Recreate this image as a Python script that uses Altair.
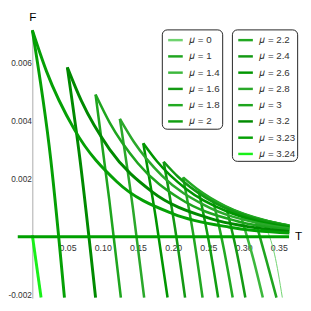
import altair as alt
import pandas as pd

# legend groups (mu values)
mu_a = ["0", "1", "1.4", "1.6", "1.8", "2"]
mu_b = ["2.2", "2.4", "2.6", "2.8", "3", "3.2", "3.23", "3.24"]
colors_a = ["#6fd36f", "#1fa51f", "#3cb83c", "#149a14", "#22aa22", "#109e10"]
colors_b = ["#22a822", "#139913", "#009600", "#2aa82a", "#1ea51e", "#008a00", "#05a005", "#19f019"]
widths_a = [1.0, 2.6, 2.6, 2.6, 2.6, 2.6]
widths_b = [2.6, 2.6, 2.6, 2.6, 2.6, 3.0, 3.0, 3.0]

# steep (large-T) branch of each swallowtail: cusp -> bottom
steep_T = {
    "3.24": [0.0, 0.0124],
    "3.23": [0.0, 0.0262, 0.0456],
    "3.2": [0.0497, 0.0677, 0.0898],
    "3": [0.0898, 0.1091, 0.1257],
    "2.8": [0.1243, 0.1429, 0.1588],
    "2.6": [0.1575, 0.1754, 0.192],
    "2.4": [0.1865, 0.2026, 0.2169],
    "2.2": [0.2141, 0.2293, 0.2417],
    "2": [0.2362, 0.2514, 0.2638],
    "1.8": [0.2569, 0.2721, 0.2845],
    "1.6": [0.2762, 0.2906, 0.3025],
    "1.4": [0.297, 0.3135, 0.3273],
    "1": [0.3177, 0.3322, 0.3467],
    "0": [0.330, 0.337, 0.3439, 0.355],
}
steep_F = {
    "3.24": [0.00005, -0.0021],
    "3.23": [0.00713, 0.00266, -0.0021],
    "3.2": [0.00585, 0.00266, -0.0021],
    "3": [0.00491, 0.00131, -0.0021],
    "2.8": [0.00407, 0.00097, -0.0021],
    "2.6": [0.00323, 0.00064, -0.0021],
    "2.4": [0.00259, 0.0003, -0.0021],
    "2.2": [0.00205, -0.00003, -0.0021],
    "2": [0.00158, -0.00027, -0.0021],
    "1.8": [0.00124, -0.00044, -0.0021],
    "1.6": [0.00094, -0.00057, -0.0021],
    "1.4": [0.00064, -0.00074, -0.0021],
    "1": [0.00047, -0.0008, -0.0021],
    "0": [0.00037, 0.0, -0.0006, -0.0021],
}
# decaying branch of each swallowtail: cusp -> right edge
lower_T = {
    "3.23": [0.0, 0.02, 0.06, 0.12, 0.20, 0.28, 0.365],
    "3.2": [0.0497, 0.0697, 0.1097, 0.1697, 0.2497, 0.3297, 0.365],
    "3": [0.0898, 0.1098, 0.1498, 0.2098, 0.2898, 0.365],
    "2.8": [0.1243, 0.1443, 0.1843, 0.2443, 0.3243, 0.365],
    "2.6": [0.1575, 0.1775, 0.2175, 0.2775, 0.32, 0.365],
    "2.4": [0.1865, 0.2065, 0.2465, 0.3065, 0.365],
    "2.2": [0.2141, 0.2341, 0.2741, 0.3341, 0.365],
    "2": [0.2362, 0.2562, 0.2962, 0.33, 0.365],
    "1.8": [0.2569, 0.2769, 0.3169, 0.365],
    "1.6": [0.2762, 0.2962, 0.3362, 0.365],
    "1.4": [0.297, 0.317, 0.34, 0.365],
    "1": [0.3177, 0.3377, 0.365],
    "0": [0.330, 0.345, 0.365],
}
lower_F = {
    "3.23": [0.00713, 0.00572, 0.00369, 0.00190, 0.00079, 0.00033, 0.000128],
    "3.2": [0.00585, 0.00469, 0.00302, 0.00156, 0.00065, 0.000269, 0.000183],
    "3": [0.00491, 0.00394, 0.00254, 0.00131, 0.000544, 0.000238],
    "2.8": [0.00407, 0.00327, 0.00210, 0.00109, 0.000451, 0.000288],
    "2.6": [0.00323, 0.00259, 0.00167, 0.000863, 0.00054, 0.00033],
    "2.4": [0.00259, 0.00208, 0.00134, 0.000692, 0.000363],
    "2.2": [0.00205, 0.00165, 0.00106, 0.000548, 0.00039],
    "2": [0.00158, 0.00127, 0.000817, 0.000563, 0.000383],
    "1.8": [0.00124, 0.000995, 0.000641, 0.000378],
    "1.6": [0.00094, 0.000754, 0.000486, 0.000354],
    "1.4": [0.00064, 0.000514, 0.000399, 0.000303],
    "1": [0.00047, 0.000377, 0.000279],
    "0": [0.00037, 0.000314, 0.000252],
}
zero_T = [-0.0207, 0.3646]
zero_F = [0.0, 0.0]

x_ticks = [0.05, 0.10, 0.15, 0.20, 0.25, 0.30, 0.35]
y_ticks = [-0.002, 0.002, 0.004, 0.006]

rows = []
for mu, w in zip(mu_a + mu_b, widths_a + widths_b):
    for name, Ts, Fs in (("s", steep_T, steep_F), ("l", lower_T, lower_F)):
        if mu in Ts:
            for t, f in zip(Ts[mu], Fs[mu]):
                rows.append({"mu": mu, "seg": mu + name, "T": t, "F": f, "w": w})
df = pd.DataFrame(rows)
zdf = pd.DataFrame({"T": zero_T, "F": zero_F})

FONT = "Liberation Sans"

x_axis = alt.Axis(values=x_ticks, format=".2f", title="T", offset=-63,
                  titleX=273, titleY=-1, titleAlign="center", titleBaseline="middle",
                  titleFontSize=12, titleFontWeight="normal", titleColor="black", titleFont=FONT,
                  labelFontSize=9, labelColor="#333", labelFont=FONT, labelPadding=7,
                  tickSize=0, domain=False, grid=False)
y_axis = alt.Axis(values=y_ticks, format=".3f", title="F", titleAngle=0,
                  titleX=0, titleY=-13, titleAlign="center", titleBaseline="middle",
                  titleFontSize=12, titleFontWeight="normal", titleColor="black", titleFont=FONT,
                  labelFontSize=8.5, labelColor="#333", labelFont=FONT, labelPadding=1,
                  labelExpr="replace(datum.label, '\u2212', '-')",
                  tickSize=0, domainColor="#aaaaaa", domainWidth=1, grid=False)

x_enc = alt.X("T:Q", scale=alt.Scale(domain=[0, 0.365], nice=False, zero=False), axis=x_axis)
y_enc = alt.Y("F:Q", scale=alt.Scale(domain=[-0.00212, 0.00716], nice=False, zero=False), axis=y_axis)


def group(mus, cols, lx):
    leg = alt.Legend(orient="none", legendX=lx, legendY=0, title=None,
                     symbolType="stroke", symbolSize=225, symbolStrokeWidth=2.5,
                     labelExpr="'\U0001D707 = ' + datum.label", labelFontSize=10,
                     labelColor="#333", labelFont=FONT, padding=2, rowPadding=2.7,
                     symbolOffset=3, labelOffset=5, strokeColor="#222",
                     fillColor="white", cornerRadius=5)
    return alt.Chart(df).transform_filter(
        alt.FieldOneOfPredicate(field="mu", oneOf=mus)
    ).mark_line(interpolate="monotone").encode(
        x=x_enc, y=y_enc,
        color=alt.Color("mu:N", scale=alt.Scale(domain=mus, range=cols), legend=leg),
        strokeWidth=alt.StrokeWidth("w:Q", scale=None, legend=None),
        detail="seg:N",
    )


layer_a = group(mu_a, colors_a, 133)
layer_b = group(mu_b, colors_b, 205)
zero = alt.Chart(zdf).mark_line(color="#00a000", strokeWidth=3).encode(x=x_enc, y=y_enc)

chart = alt.layer(layer_a, layer_b, zero).resolve_scale(color="independent").properties(
    width=264, height=276,
    autosize=alt.AutoSizeParams(type="none"),
    padding={"left": 25, "top": 18, "right": 14, "bottom": 1},
).configure_view(stroke=None)

chart.save("out.html", embed_options={"renderer": "svg", "actions": False})
